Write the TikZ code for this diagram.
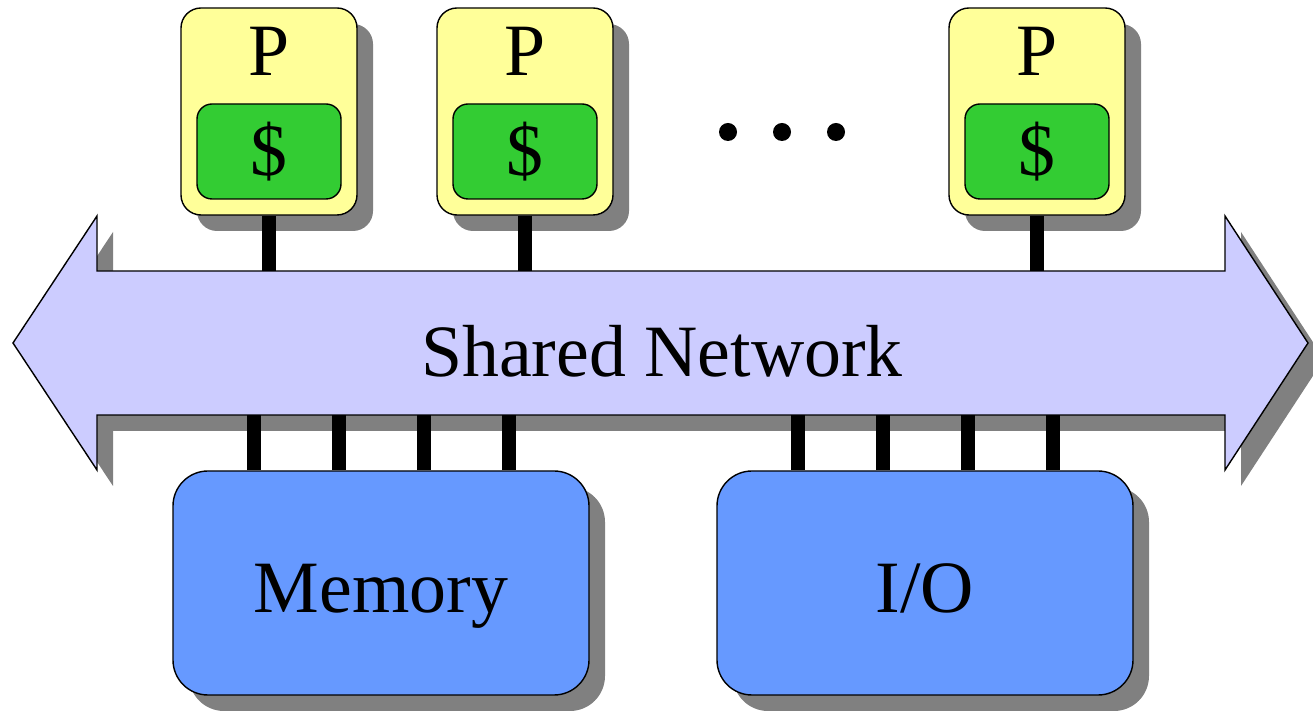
\documentclass[tikz,border=0pt]{standalone}
\usepackage{fontspec}
\setmainfont{Liberation Serif}
\usetikzlibrary{positioning,shadows}
\definecolor{procyellow}{HTML}{FFFF99}
\definecolor{cachegreen}{HTML}{33CC33}
\definecolor{netlilac}{HTML}{CCCCFF}
\definecolor{devblue}{HTML}{6699FF}
\definecolor{shadowgray}{HTML}{808080}
\tikzset{
	boxshadow/.style={drop shadow={shadow xshift=0.16cm, shadow yshift=-0.16cm, fill=shadowgray, opacity=1}},
	proc/.style={draw, fill=procyellow, rounded corners=0.2cm, minimum width=1.76cm, minimum height=2.07cm, boxshadow},
	cache/.style={draw, fill=cachegreen, rounded corners=0.15cm, minimum width=1.44cm, minimum height=0.95cm},
	dev/.style={draw, fill=devblue, rounded corners=0.35cm, minimum width=4.16cm, minimum height=2.24cm, text height=16.8pt, text depth=0pt, boxshadow},
	link/.style={line width=0.14cm},
}
\begin{document}
\begin{tikzpicture}[font=\fontsize{21}{25}\selectfont]
\useasboundingbox (0,0) rectangle (13.13,7.13);
\draw[fill=netlilac, boxshadow] (0.13,3.70) -- (0.97,4.97) -- (0.97,4.42) -- (12.25,4.42) -- (12.25,4.97) -- (13.08,3.70) -- (12.25,2.43) -- (12.25,2.98) -- (0.97,2.98) -- (0.97,2.43) -- cycle;
\node (net) at (6.62,3.62) {Shared Network};
\coordinate (nettop) at (0,4.42);
\coordinate (netbot) at (0,2.98);
\foreach \i / \x in {1/2.69,2/5.25,3/10.37} {
	\node[proc] (p\i) at (\x,6.015) {};
	\node[cache, above=0.16cm of p\i.south] (c\i) {\$};
	\node[below=0.07cm of p\i.north] (l\i) {P};
	\draw[link] (p\i.south) -- (p\i.south |- nettop);
}
\foreach \x in {7.28,7.82,8.36} {
	\fill (\x,5.81) circle (0.09);
}
\foreach \name / \txt / \x in {mem/{Memory}/3.81,io/{I/O}/9.25} {
	\node[dev] (\name) at (\x,1.30) {\txt};
	\foreach \dx in {-1.275,-0.425,0.425,1.275} {
		\draw[link] ([xshift=\dx cm]\name.north) -- ([xshift=\dx cm]\name.north |- netbot);
	}
}
\end{tikzpicture}
\end{document}
